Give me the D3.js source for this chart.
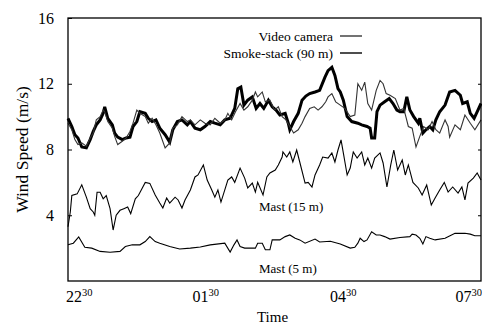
<!DOCTYPE html>
<html>
<head>
<meta charset="utf-8">
<script src="https://cdn.jsdelivr.net/npm/d3@7/dist/d3.min.js"></script>
<style>
  html, body { margin: 0; padding: 0; background: #fff; }
  svg { display: block; }
</style>
</head>
<body>
<svg id="chart" width="482" height="324"></svg>
<script>
// Wind speed records, time in minutes after 22:30, speed in m/s.
const videoCameraTime = [0,5,9,13,18,24,29,33,37,42,46,48,52,58,61,65,71,76,81,85,90,94,101,105,110,115,120,127,133,137,143,149,156,160,166,173,179,186,192,199,205,209,214,219,225,230,235,241,245,248,254,258,264,270,275,280,285,290,295,301,306,310,316,322,327,332,337,340,345,350,356,362,369,375,379,384,388,392,397,403,408,412,416,421,428,434,439,445,450,455,460,465,471,476,481,486,493,497,499,506,513,519,526,532,540];
const videoCameraSpeed = [9.6,9.2,8.6,8.3,8.4,8.2,8.7,9.0,9.8,10.0,10.4,10.3,9.7,9.3,8.8,8.3,8.5,8.7,9.1,9.6,10.4,10.2,10.0,9.6,9.9,9.5,9.0,8.1,8.4,9.3,9.5,10.0,9.7,9.8,9.5,9.8,9.6,9.5,9.9,9.6,9.8,10.2,9.8,10.3,10.8,10.4,10.6,11.0,11.5,11.2,11.5,10.9,11.0,10.4,10.6,10.0,9.8,9.4,9.0,9.2,9.6,10.0,10.5,10.6,10.4,10.6,10.9,11.2,11.4,10.9,10.7,10.5,10.0,10.1,12.0,11.6,12.1,10.8,10.4,11.6,12.2,12.0,11.4,11.3,11.1,10.4,10.5,9.4,9.3,8.15,8.8,9.4,9.2,9.7,9.2,9.0,9.8,9.4,8.75,9.5,9.2,10.1,9.6,9.2,9.8];

const smokeStackTime = [0,5,9,13,18,24,29,33,37,42,46,48,52,58,61,65,71,76,81,85,90,94,101,105,110,115,120,127,133,137,143,149,156,160,166,173,179,186,192,199,205,212,218,222,226,230,235,241,246,251,256,262,267,272,277,284,288,290,295,301,306,311,316,323,329,336,340,345,349,353,356,360,365,371,379,384,391,395,397,401,404,408,414,420,425,430,434,439,443,447,452,458,460,464,468,473,477,481,486,493,499,506,513,516,522,526,531,536,540];
const smokeStackSpeed = [9.9,9.4,8.9,8.7,8.15,8.1,8.6,9.1,9.5,9.8,10.2,10.6,9.9,9.5,9.0,8.75,8.6,8.7,8.75,9.4,9.7,10.3,10.2,9.9,9.7,9.8,9.3,8.9,8.45,9.2,9.7,9.8,9.5,9.7,9.3,9.2,9.4,9.7,9.6,9.5,9.8,9.9,10.5,11.7,11.8,10.7,11.0,11.2,10.5,10.8,10.5,11.0,10.6,10.4,10.1,10.2,9.6,9.2,9.7,10.2,11.0,11.25,11.4,11.5,11.6,12.4,12.8,13.0,12.5,11.7,11.5,11.0,10.0,9.7,9.6,9.5,9.4,9.3,8.7,8.7,10.3,10.7,10.9,11.1,10.8,10.4,10.3,10.3,11.2,10.4,10.0,9.6,9.9,9.0,9.2,9.4,9.2,9.8,10.3,10.7,11.5,11.6,11.3,10.8,10.9,10.2,9.9,10.4,10.8];

const mast15Time = [0,3,5,12,18,24,29,33,35,38,42,46,50,55,59,63,68,73,78,82,88,92,97,101,107,114,120,124,129,133,140,144,149,153,160,166,170,177,182,188,192,196,200,205,209,214,218,225,231,235,241,245,248,255,260,264,271,275,280,281,286,290,294,299,303,310,314,319,323,329,333,340,345,349,353,357,360,365,369,373,378,384,388,392,397,401,408,412,417,422,426,431,437,441,445,451,458,463,469,475,480,486,492,497,503,510,515,519,523,530,535,540];
const mast15Speed = [3.3,4.2,5.2,5.3,5.85,5.1,4.4,4.2,4.0,5.4,5.4,5.0,5.2,4.4,3.1,4.0,4.3,4.4,4.5,4.1,5.0,5.2,5.65,6.0,5.94,5.23,4.74,4.44,5.05,4.74,5.1,4.93,4.44,4.93,5.54,6.33,6.45,7.06,6.14,5.54,5.1,5.54,4.8,5.54,6.14,6.33,6.0,6.87,6.26,5.66,5.96,5.41,6.0,5.23,6.33,6.57,6.75,7.06,7.54,7.85,7.54,7.85,7.24,7.97,7.24,5.96,6.0,5.72,6.45,7.06,7.54,7.48,7.79,7.24,7.97,8.58,7.79,6.45,6.87,7.85,7.48,7.85,7.06,7.48,6.87,7.48,7.79,7.18,5.72,7.06,7.97,6.75,7.36,6.45,7.06,6.0,5.66,5.23,5.84,4.62,5.05,5.54,6.0,5.41,5.72,5.35,5.72,4.93,5.96,6.26,6.57,6.14];

const mast5Time = [0,7,14,22,31,42,55,68,75,84,94,101,107,114,120,133,146,160,173,186,205,212,217,221,225,231,245,248,254,258,264,267,277,284,290,297,303,310,323,329,343,356,369,375,379,382,387,391,397,403,408,414,421,434,447,450,455,460,464,468,473,480,493,506,519,526,532,540];
const mast5Speed = [2.2,2.3,2.68,2.05,2.0,1.8,1.75,1.8,2.1,2.2,2.2,2.4,2.7,2.4,2.3,2.1,1.95,2.0,2.07,2.2,2.3,1.76,2.2,2.5,2.1,2.0,2.0,2.3,2.3,1.9,1.9,2.5,2.5,2.7,2.8,2.6,2.5,2.3,2.55,2.37,2.42,2.25,2.0,2.05,2.3,2.6,2.4,2.5,3.0,2.8,2.8,2.7,2.55,2.65,2.7,2.85,2.8,2.6,2.25,2.7,2.6,2.5,2.6,2.9,2.9,2.85,2.75,2.75];

const yTicks = [4, 8, 12, 16];
const xTickMinutes = [0, 180, 360, 540];
const xTickHours = ["22", "01", "04", "07"];
const xTickMinuteLabel = "30";

const FONT = "Liberation Serif";
const svg = d3.select("#chart");
const margin = { left: 68, right: 1, top: 18, bottom: 43 };
const W = 482, H = 324;

const x = d3.scaleLinear().domain([0, 540]).range([margin.left, W - margin.right]);
const y = d3.scaleLinear().domain([0, 16]).range([H - margin.bottom, margin.top]);

const pairs = (t, v) => t.map((d, i) => [d, v[i]]);
const line = d3.line().x(d => x(d[0])).y(d => y(d[1]));

const addText = (sel) => sel.append("text").style("font-family", FONT).attr("fill", "#000");

// series
svg.append("path").datum(pairs(mast5Time, mast5Speed))
  .attr("d", line).attr("fill", "none").attr("stroke", "#000").attr("stroke-width", 1.1);
svg.append("path").datum(pairs(mast15Time, mast15Speed))
  .attr("d", line).attr("fill", "none").attr("stroke", "#000").attr("stroke-width", 1.1);
svg.append("path").datum(pairs(smokeStackTime, smokeStackSpeed))
  .attr("d", line).attr("fill", "none").attr("stroke", "#000").attr("stroke-width", 3)
  .attr("stroke-linejoin", "miter");
svg.append("path").datum(pairs(videoCameraTime, videoCameraSpeed))
  .attr("d", line).attr("fill", "none").attr("stroke", "#333").attr("stroke-width", 1.1);

// frame
svg.append("rect")
  .attr("x", x(0)).attr("y", y(16))
  .attr("width", x(540) - x(0)).attr("height", y(0) - y(16))
  .attr("fill", "none").attr("stroke", "#000").attr("stroke-width", 1.3);

// y axis, inward ticks
const yAxis = svg.append("g").attr("transform", `translate(${x(0)},0)`)
  .call(d3.axisLeft(y).tickValues(yTicks).tickSize(-4).tickPadding(14).tickFormat(d3.format("d")));
yAxis.select(".domain").remove();
yAxis.selectAll("line").attr("stroke", "#000");
yAxis.selectAll("text").attr("font-size", 16).attr("fill", "#000").style("font-family", FONT);

const yAxisR = svg.append("g").attr("transform", `translate(${x(540)},0)`)
  .call(d3.axisRight(y).tickValues(yTicks.slice(0, 3)).tickSize(-3).tickFormat(""));
yAxisR.select(".domain").remove();
yAxisR.selectAll("line").attr("stroke", "#000");

// x tick labels with superscript minutes
xTickMinutes.forEach((m, i) => {
  const last = i === xTickMinutes.length - 1;
  const t = addText(svg)
    .attr("x", x(m) + (i === 0 ? -2 : last ? 1 : 0))
    .attr("y", 302)
    .attr("font-size", 16)
    .attr("text-anchor", i === 0 ? "start" : last ? "end" : "middle");
  t.append("tspan").text(xTickHours[i]);
  t.append("tspan").attr("font-size", 10.5).attr("dy", -6).text(xTickMinuteLabel);
});

// axis titles
addText(svg).attr("x", (x(0) + x(540)) / 2 - 2).attr("y", 322)
  .attr("text-anchor", "middle").attr("font-size", 15).text("Time");
addText(svg)
  .attr("transform", `translate(28,${(y(0) + y(16)) / 2}) rotate(-90)`)
  .attr("text-anchor", "middle").attr("font-size", 17.5).text("Wind Speed (m/s)");

// legend
const legend = [
  { label: "Video camera", width: 1.1, y: 36 },
  { label: "Smoke-stack (90 m)", width: 1.4, y: 53 }
];
legend.forEach(d => {
  addText(svg).attr("x", 333).attr("y", d.y + 5).attr("text-anchor", "end")
    .attr("font-size", 13.5).text(d.label);
  svg.append("line").attr("x1", 340).attr("x2", 362).attr("y1", d.y).attr("y2", d.y)
    .attr("stroke", "#000").attr("stroke-width", d.width);
});

// series labels
addText(svg).attr("x", 259).attr("y", 211).attr("font-size", 13).text("Mast (15 m)");
addText(svg).attr("x", 259).attr("y", 273).attr("font-size", 13).text("Mast (5 m)");
</script>
</body>
</html>
